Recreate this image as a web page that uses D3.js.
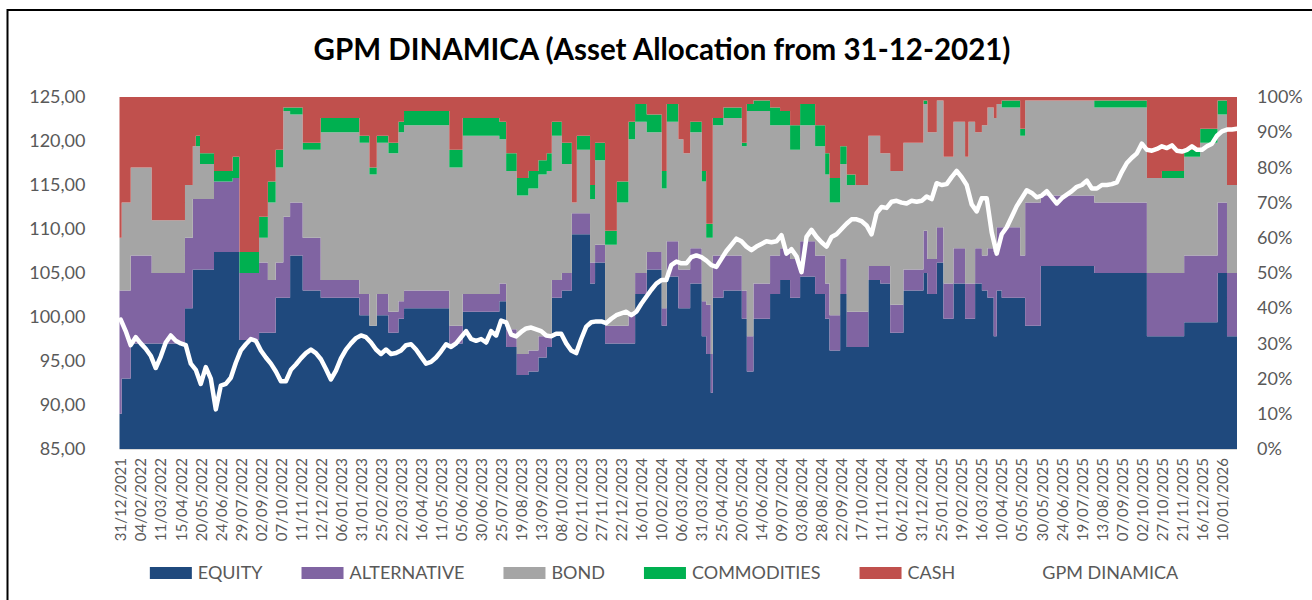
<!DOCTYPE html>
<html>
<head>
<meta charset="utf-8">
<script src="https://cdn.jsdelivr.net/npm/d3@7"></script>
<style>
  body { margin: 0; background: #fff; }
  text { font-family: Lato, "Open Sans", sans-serif; }
</style>
</head>
<body>
<div id="chart"></div>
<script>
// category labels on the x axis (one every 5 observations)
const dateLabels = [
  "31/12/2021","04/02/2022","11/03/2022","15/04/2022","20/05/2022","24/06/2022","29/07/2022",
  "02/09/2022","07/10/2022","11/11/2022","12/12/2022","06/01/2023","31/01/2023","25/02/2023",
  "22/03/2023","16/04/2023","11/05/2023","05/06/2023","30/06/2023","25/07/2023","19/08/2023",
  "13/09/2023","08/10/2023","02/11/2023","27/11/2023","22/12/2023","16/01/2024","10/02/2024",
  "06/03/2024","31/03/2024","25/04/2024","20/05/2024","14/06/2024","09/07/2024","03/08/2024",
  "28/08/2024","22/09/2024","17/10/2024","11/11/2024","06/12/2024","31/12/2024","25/01/2025",
  "19/02/2025","16/03/2025","10/04/2025","05/05/2025","30/05/2025","24/06/2025","19/07/2025",
  "13/08/2025","07/09/2025","02/10/2025","27/10/2025","21/11/2025","16/12/2025","10/01/2026"
];

// allocation changes: position on the category axis (label units) + weights in %
const segStart = [
  -0.06, 0.05, 0.5, 1.55, 3.21, 3.6, 3.75, 3.96, 4.66, 5.59, 5.93, 6.91, 7.35, 7.74, 8.12, 8.46,
  9.09, 9.99, 11.92, 12.42, 12.79, 13.37, 13.87, 14.15, 16.41, 17.08, 18.91, 19.25, 19.78, 20.36,
  20.86, 21.28, 21.53, 22.03, 22.53, 22.78, 23.44, 23.69, 24.19, 24.78, 25.36, 25.69, 26.27, 27.02,
  27.27, 27.85, 28.1, 28.44, 29.02, 29.24, 29.47, 29.57, 30.1, 31.02, 31.27, 31.6, 32.43, 32.93,
  33.43, 33.93, 34.68, 35.18, 35.4, 35.93, 36.26, 36.7, 37.34, 37.93, 38.43, 39.09, 40.09, 40.29,
  40.76, 41.09, 41.59, 42.17, 42.34, 42.67, 43.01, 43.29, 43.6, 43.75, 44.0, 44.92, 45.17, 45.95,
  48.62, 51.25, 52.0, 53.11, 53.91, 54.78, 55.25
];
const equity = [
  10, 20, 30, 30, 40, 51, 51, 51, 56, 56, 31, 33, 33, 43, 43, 55,
  45, 43, 38, 35, 38, 33, 37, 40, 30, 39, 42, 29, 21, 22,
  26, 29, 43, 45, 61, 61, 47, 53, 30, 30, 30, 44, 51, 35,
  49, 40, 40, 47, 32, 27, 16, 43, 45, 37, 22, 37, 44, 48,
  43, 49, 44, 37, 28, 44, 29, 29, 48, 47, 33, 45, 50, 44,
  53, 37, 47, 37, 37, 47, 45, 43, 32, 45, 43, 43, 35, 52,
  50, 32, 32, 36, 36, 50, 32
];
const alternative = [
  35, 25, 25, 20, 20, 20, 20, 20, 20, 21, 19, 20, 15, 10, 23, 15,
  15, 5, 6, 0, 6, 6, 5, 5, 5, 5, 5, 5, 6, 6,
  6, 3, 5, 5, 6, 6, 6, 5, 5, 5, 8, 6, 5, 5,
  10, 11, 11, 10, 10, 14, 11, 12, 10, 8, 10, 10, 11, 9,
  11, 10, 11, 10, 10, 10, 10, 10, 4, 5, 8, 6, 12, 10,
  10, 10, 10, 10, 10, 10, 10, 14, 24, 18, 20, 12, 35, 20,
  20, 18, 18, 19, 19, 20, 18
];
const bond = [
  15, 25, 25, 15, 15, 15, 15, 10, 0, 0, 0, 7, 22, 27, 30, 25,
  25, 42, 43, 43, 43, 45, 48, 47, 45, 45, 41, 45, 45, 46,
  46, 47, 41, 31, 3, 18, 18, 24, 23, 35, 50, 43, 34, 34,
  34, 37, 33, 33, 34, 19, 33, 37, 39, 41, 64, 49, 37, 35,
  31, 33, 31, 31, 32, 27, 36, 36, 37, 32, 38, 36, 36, 36,
  36, 36, 36, 36, 46, 33, 37, 40, 38, 35, 34, 34, 29, 27,
  27, 27, 27, 28, 32, 25, 25
];
const commodities = [
  0, 0, 0, 0, 0, 0, 3, 3, 3, 6, 6, 6, 6, 5, 1, 2,
  2, 4, 2, 2, 2, 3, 3, 4, 5, 5, 5, 5, 5, 5,
  4, 5, 4, 6, 0, 4, 4, 5, 4, 6, 5, 5, 5, 5,
  5, 0, 0, 3, 3, 4, 4, 2, 3, 1, 2, 3, 5, 4,
  7, 6, 6, 6, 7, 5, 3, 0, 0, 0, 0, 0, 1, 0,
  0, 0, 0, 0, 0, 0, 0, 0, 0, 0, 2, 2, 0, 0,
  2, 0, 2, 2, 4, 4, 0
];
const cash = [
  40, 30, 20, 35, 25, 14, 11, 16, 21, 17, 44, 34, 24, 15, 3, 3,
  13, 6, 11, 20, 11, 13, 7, 4, 15, 6, 7, 16, 23, 21,
  18, 16, 7, 13, 30, 11, 25, 13, 38, 24, 7, 2, 5, 21,
  2, 12, 16, 7, 21, 36, 36, 6, 3, 13, 2, 1, 3, 4,
  8, 2, 8, 16, 23, 14, 22, 25, 11, 16, 21, 13, 1, 10,
  1, 17, 7, 17, 7, 10, 8, 3, 6, 2, 1, 9, 1, 1,
  1, 23, 21, 15, 9, 1, 25
];
const axisEnd = 55.75;

// GPM DINAMICA value, read every quarter of a label step
const navPerLabel = 4;
const nav = [
  99.7, 98.4, 96.8, 97.7, 97.0, 96.4, 95.6, 94.2, 95.5, 97.1, 97.9, 97.3, 97.0, 96.8, 94.7, 94.0,
  92.4, 94.3, 93.0, 89.5, 92.2, 92.4, 93.1, 94.8, 96.2, 96.9, 97.5, 97.3, 96.2, 95.4, 94.7, 93.8,
  92.7, 92.7, 94.0, 94.6, 95.3, 95.9, 96.3, 95.9, 95.2, 94.1, 92.9, 93.9, 95.3, 96.3, 97.0, 97.6,
  97.9, 97.7, 97.1, 96.3, 95.8, 96.3, 95.8, 95.9, 96.2, 96.8, 96.9, 96.3, 95.5, 94.7, 94.9, 95.4,
  96.1, 96.9, 96.6, 97.0, 97.7, 98.4, 97.5, 97.3, 97.5, 97.1, 98.4, 97.9, 99.6, 99.4, 98.0, 97.8,
  98.3, 98.7, 98.8, 98.6, 98.4, 97.9, 97.8, 98.1, 98.1, 97.0, 96.2, 95.9, 97.5, 98.9, 99.4, 99.5,
  99.5, 99.3, 99.8, 100.2, 100.4, 100.6, 100.2, 100.6, 101.5, 102.3, 103.1, 103.8, 104.2, 104.2, 105.9, 106.3,
  106.1, 106.1, 106.8, 107.0, 106.8, 106.4, 105.9, 105.7, 106.6, 107.5, 108.2, 108.9, 108.6, 108.0, 107.6, 108.0,
  108.3, 108.6, 108.5, 108.6, 109.3, 107.2, 107.7, 106.9, 105.1, 109.1, 109.9, 109.1, 108.5, 108.0, 109.1, 109.4,
  110.0, 110.6, 111.1, 111.1, 110.9, 110.4, 109.4, 111.8, 112.5, 112.4, 113.1, 113.2, 113.0, 112.9, 113.2, 113.1,
  113.2, 113.7, 113.4, 115.2, 115.0, 115.1, 115.9, 116.6, 115.9, 115.0, 112.8, 112.0, 113.5, 113.5, 109.6, 107.2,
  109.4, 110.2, 111.4, 112.6, 113.5, 114.4, 114.1, 113.6, 113.8, 114.3, 113.6, 112.9, 113.5, 113.9, 114.3, 114.8,
  115.0, 115.5, 114.6, 114.6, 115.0, 115.0, 115.1, 115.3, 116.5, 117.5, 118.1, 118.6, 119.7, 119.0, 118.9, 119.1,
  119.4, 119.2, 119.5, 118.9, 118.8, 119.0, 119.4, 119.0, 119.0, 119.4, 119.7, 120.6, 121.1, 121.3, 121.3, 121.4
];

const keys   = ["EQUITY", "ALTERNATIVE", "BOND", "COMMODITIES", "CASH"];
const colors = ["#1F497D", "#8064A2", "#A5A5A5", "#00B050", "#C0504D"];

const width = 1312, height = 600;
const plot = { left: 119.5, right: 1237, top: 97, bottom: 449 };
const grey = "#595959";

const svg = d3.select("#chart").append("svg")
  .attr("width", width)
  .attr("height", height);

// outer frame
svg.append("rect")
  .attr("x", 7.5).attr("y", 10)
  .attr("width", width + 20).attr("height", height + 20)
  .attr("fill", "none").attr("stroke", "#000").attr("stroke-width", 2);

// table for the stack
const rows = segStart.map((t, i) => ({
  t: t,
  EQUITY: equity[i], ALTERNATIVE: alternative[i], BOND: bond[i],
  COMMODITIES: commodities[i], CASH: cash[i]
}));
rows.push(Object.assign({}, rows[rows.length - 1], { t: axisEnd }));

const x = d3.scaleLinear()
  .domain([segStart[0], axisEnd])
  .range([plot.left, plot.right]);

const yPct = d3.scaleLinear().domain([0, 100]).range([plot.bottom, plot.top]);
const yNav = d3.scaleLinear().domain([85, 125]).range([plot.bottom, plot.top]);

const series = d3.stack().keys(keys)(rows);

const area = d3.area()
  .curve(d3.curveStepAfter)
  .x(d => x(d.data.t))
  .y0(d => yPct(d[0]))
  .y1(d => yPct(d[1]));

svg.append("g").attr("class", "areas")
  .selectAll("path")
  .data(series)
  .enter()
  .append("path")
  .attr("d", area)
  .attr("fill", (d, i) => colors[i]);

// bottom axis line
svg.append("line")
  .attr("x1", plot.left).attr("x2", plot.right)
  .attr("y1", plot.bottom + 0.5).attr("y2", plot.bottom + 0.5)
  .attr("stroke", "#D9D9D9").attr("stroke-width", 1);

// NAV line
const line = d3.line()
  .x((d, i) => x(i / navPerLabel))
  .y(d => yNav(d));

svg.append("path")
  .datum(nav)
  .attr("d", line)
  .attr("fill", "none")
  .attr("stroke", "#fff")
  .attr("stroke-width", 4.5)
  .attr("stroke-linejoin", "round")
  .attr("stroke-linecap", "round");

// axes
const itFormat = d3.formatLocale({ decimal: ",", thousands: ".", grouping: [3], currency: ["", "€"] });

const leftAxis = svg.append("g")
  .attr("transform", `translate(${plot.left - 34},0)`)
  .call(d3.axisLeft(yNav).tickValues(d3.range(85, 126, 5)).tickFormat(itFormat.format(".2f")).tickSize(0));
leftAxis.select(".domain").remove();
leftAxis.selectAll("text")
  .attr("x", 0)
  .attr("fill", grey)
  .style("font-size", "18px")
  .style("font-family", "Lato");

const rightAxis = svg.append("g")
  .attr("transform", `translate(${plot.right + 20},0)`)
  .call(d3.axisRight(yPct).tickValues(d3.range(0, 101, 10)).tickFormat(d => d + "%").tickSize(0));
rightAxis.select(".domain").remove();
rightAxis.selectAll("text")
  .attr("x", 0)
  .attr("fill", grey)
  .style("font-size", "18px")
  .style("font-family", "Lato");

const bottomAxis = svg.append("g")
  .attr("transform", `translate(0,${plot.bottom})`)
  .call(d3.axisBottom(x).tickValues(d3.range(dateLabels.length)).tickFormat(i => dateLabels[i]).tickSize(0));
bottomAxis.select(".domain").remove();
bottomAxis.selectAll("text")
  .attr("transform", "rotate(-90)")
  .attr("text-anchor", "end")
  .attr("x", -9)
  .attr("y", 0)
  .attr("dy", "0.35em")
  .attr("fill", grey)
  .style("font-size", "15px")
  .style("font-family", "Lato");

// title
svg.append("text")
  .attr("x", 662).attr("y", 60)
  .attr("text-anchor", "middle")
  .attr("fill", "#000")
  .style("font-size", "29.5px")
  .style("font-weight", "bold")
  .text("GPM DINAMICA (Asset Allocation from 31-12-2021)");

// legend
const legendItems = keys.map((k, i) => ({ label: k, color: colors[i], swatch: "rect" }))
  .concat([{ label: "GPM DINAMICA", color: "#fff", swatch: "line" }]);

const legend = svg.append("g").attr("class", "legend");
let lx = 0;
legendItems.forEach(item => {
  const g = legend.append("g").attr("transform", `translate(${lx},0)`);
  if (item.swatch === "rect") {
    g.append("rect").attr("x", 0).attr("y", -6).attr("width", 42).attr("height", 12).attr("fill", item.color);
  } else {
    g.append("line").attr("x1", 0).attr("x2", 42).attr("y1", 0).attr("y2", 0)
      .attr("stroke", item.color).attr("stroke-width", 4.5);
  }
  const t = g.append("text")
    .attr("x", 48).attr("y", 0).attr("dy", "0.35em")
    .attr("fill", grey)
    .style("font-size", "18px")
    .text(item.label);
  lx += 48 + t.node().getComputedTextLength() + 39;
});
const legendWidth = lx - 39;
legend.attr("transform", `translate(${664 - legendWidth / 2},573)`);
</script>
</body>
</html>
